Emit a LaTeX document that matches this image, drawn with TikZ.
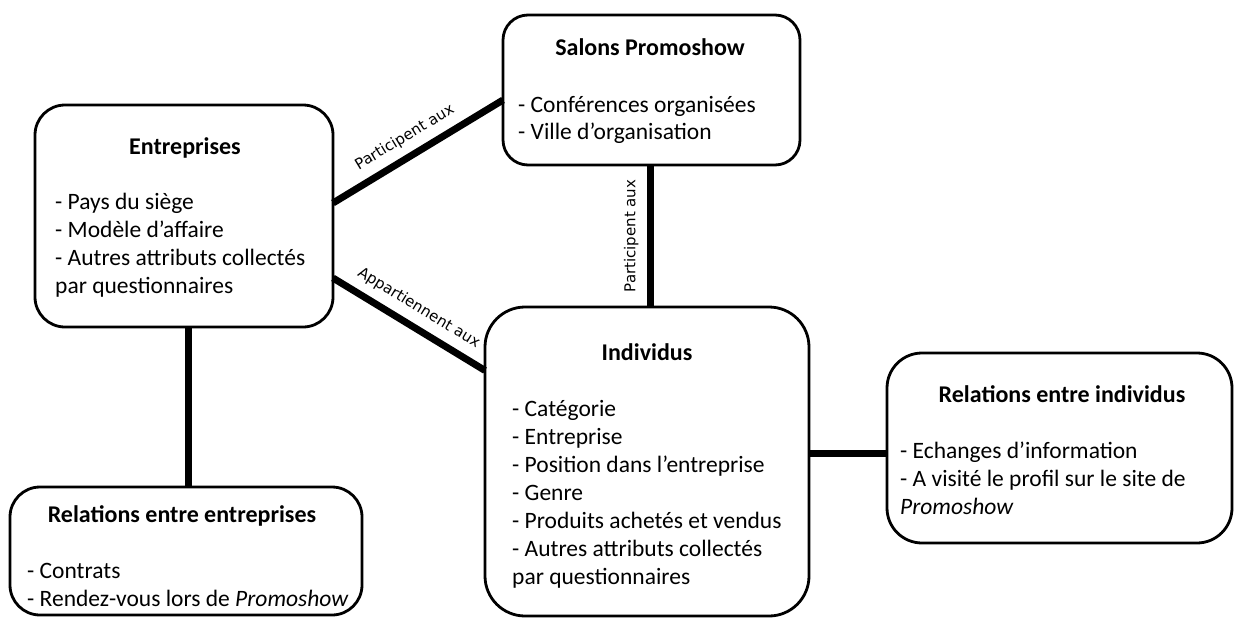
\documentclass[tikz,border=0pt]{standalone}
\usepackage{fontspec}
\setmainfont{Carlito}
\newfontfamily\labelfont{DejaVu Sans}
\begin{document}
\begin{tikzpicture}[x=1pt,y=-1pt,
  box/.style={draw=black, line width=2.8pt, fill=white, inner sep=0pt, outer sep=0pt},
  ttl/.style={anchor=base, inner sep=0pt, font=\fontsize{24}{28}\selectfont\bfseries},
  body/.style={anchor=base west, inner sep=0pt, font=\fontsize{23.5}{28}\selectfont},
  link/.style={line width=7pt},
  lab/.style={font=\labelfont\fontsize{15}{18}\selectfont, inner sep=0pt}
]
\useasboundingbox (0,0) rectangle (1236,619);
% boxes
\node[box, rounded corners=30pt, minimum width=298pt, minimum height=222pt] (ent) at (184,216) {};
\node[box, rounded corners=25pt, minimum width=297pt, minimum height=150pt] (sal) at (651.5,90) {};
\node[box, rounded corners=40pt, minimum width=324pt, minimum height=309pt] (ind) at (647,461.5) {};
\node[box, rounded corners=35pt, minimum width=345pt, minimum height=190pt] (rind) at (1059.5,448) {};
\node[box, rounded corners=30pt, minimum width=352pt, minimum height=128pt] (rent) at (186,551) {};
% connectors
\draw[link] ([yshift=13pt]ent.east) -- node[lab, sloped, pos=0.48, above=8pt] (l1) {Participent aux} ([yshift=-10pt]sal.west);
\draw[link] ([yshift=-62pt]ent.east) -- node[lab, sloped, pos=0.5, above=8pt] (l2) {Appartiennent aux} ([yshift=91pt]ind.west);
\draw[link] ([xshift=3pt]ind.north) -- node[lab, midway, rotate=90, anchor=south, yshift=8pt] (l3) {Participent aux} ([xshift=3pt]ind.north |- sal.south);
\draw[link] ([xshift=4pt]ent.south) -- ([xshift=4pt]ent.south |- rent.north);
\draw[link] ([yshift=-5pt]rind.west) -- ([yshift=-5pt]rind.west -| ind.east);
% texts
\node[ttl] (entT) at (185,154) {Entreprises};
\node[body] (entB) at (55,209) {\parbox[t]{300pt}{\raggedright - Pays du siège\\- Modèle d’affaire\\- Autres attributs collectés\\par questionnaires}};
\node[ttl] (salT) at (650,55) {Salons Promoshow};
\node[body] (salB) at (518,112) {\parbox[t]{300pt}{\raggedright\fontsize{23.5}{27}\selectfont - Conférences organisées\\- Ville d’organisation}};
\node[ttl] (indT) at (647,360) {Individus};
\node[body] (indB) at (512,416) {\parbox[t]{300pt}{\raggedright - Catégorie\\- Entreprise\\- Position dans l’entreprise\\- Genre\\- Produits achetés et vendus\\- Autres attributs collectés\\par questionnaires}};
\node[ttl] (rindT) at (1062,402) {Relations entre individus};
\node[body] (rindB) at (900,458) {\parbox[t]{330pt}{\raggedright - Echanges d’information\\- A visité le profil sur le site de\\\textit{Promoshow}}};
\node[ttl] (rentT) at (182,522) {Relations entre entreprises};
\node[body] (rentB) at (27,578) {\parbox[t]{340pt}{\raggedright - Contrats\\- Rendez-vous lors de \textit{Promoshow}}};
\end{tikzpicture}
\end{document}
